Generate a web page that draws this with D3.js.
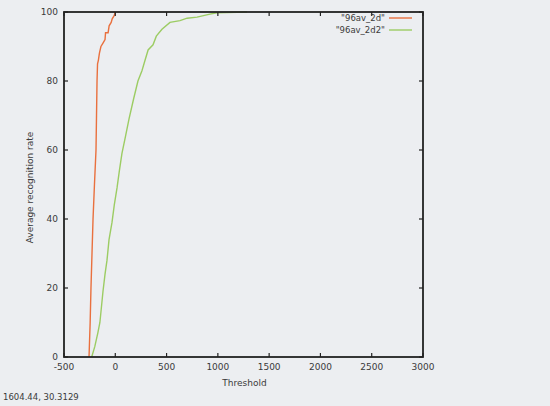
<!DOCTYPE html>
<html>
<head>
<meta charset="utf-8">
<script src="https://cdn.jsdelivr.net/npm/d3@7"></script>
<style>
  html, body { margin: 0; padding: 0; background: #eceef1; }
  svg { display: block; }
  text { font-family: "DejaVu Sans", sans-serif; fill: #3a3a3a; }
</style>
</head>
<body>
<svg id="chart" width="550" height="406"></svg>
<script>
// ---- data ----
const seriesNames = ["\"96av_2d\"", "\"96av_2d2\""];
const seriesColors = ["#e9703e", "#9ccc63"];
const redThreshold = [-256, -245, -237, -227, -217, -203, -188, -183, -178, -173, -165, -155, -140, -120, -100, -95, -70, -60, -40, -30, -10, 0];
const redRate      = [0, 10, 20, 30, 40, 50, 60, 70, 80, 85, 86, 88, 90, 91, 92, 94, 94, 96, 97, 98, 99, 100];
const greenThreshold = [-230, -200, -170, -150, -120, -100, -81, -61, -32, -10, 17, 40, 65, 100, 134, 180, 221, 260, 290, 320, 368, 400, 455, 533, 631, 700, 797, 923, 990, 1284];
const greenRate      = [0, 3, 7, 10, 19, 24, 28, 34, 39, 44, 49, 54, 59, 64, 69, 75, 80, 83, 86, 89, 90.5, 93, 95, 97, 97.5, 98.2, 98.5, 99.4, 99.8, 100];
const xTicks = [-500, 0, 500, 1000, 1500, 2000, 2500, 3000];
const yTicks = [0, 20, 40, 60, 80, 100];
const xLabel = "Threshold";
const yLabel = "Average recognition rate";
const statusText = "1604.44,  30.3129";

// ---- layout ----
const svg = d3.select("#chart");
const L = 64, R = 423, T = 12, B = 357;
const x = d3.scaleLinear().domain([-500, 3000]).range([L, R]);
const y = d3.scaleLinear().domain([0, 100]).range([B, T]);

// series
const series = [
  redThreshold.map((t, i) => [t, redRate[i]]),
  greenThreshold.map((t, i) => [t, greenRate[i]])
];
const line = d3.line().x(d => x(d[0])).y(d => y(d[1]));
series.forEach((s, i) => {
  svg.append("path").datum(s).attr("d", line)
    .attr("fill", "none").attr("stroke", seriesColors[i]).attr("stroke-width", 1.4);
});

// ticks (inward, mirrored)
const g = svg.append("g").attr("stroke", "#222").attr("stroke-width", 1.2);
xTicks.forEach(v => {
  g.append("line").attr("x1", x(v)).attr("x2", x(v)).attr("y1", B).attr("y2", B - 4);
  g.append("line").attr("x1", x(v)).attr("x2", x(v)).attr("y1", T).attr("y2", T + 4);
});
yTicks.forEach(v => {
  g.append("line").attr("x1", L).attr("x2", L + 4).attr("y1", y(v)).attr("y2", y(v));
  g.append("line").attr("x1", R).attr("x2", R - 4).attr("y1", y(v)).attr("y2", y(v));
});

// frame
svg.append("rect").attr("x", L).attr("y", T).attr("width", R - L).attr("height", B - T)
  .attr("fill", "none").attr("stroke", "#222").attr("stroke-width", 1.8);

// tick labels
svg.append("g").selectAll("text").data(xTicks).join("text")
  .attr("x", d => x(d)).attr("y", B + 13).attr("text-anchor", "middle")
  .attr("font-size", 9).text(d => d);
svg.append("g").selectAll("text").data(yTicks).join("text")
  .attr("x", L - 6).attr("y", d => y(d) + 3).attr("text-anchor", "end")
  .attr("font-size", 9).text(d => d);

// axis labels
svg.append("text").attr("x", (L + R) / 2 + 1).attr("y", 386).attr("text-anchor", "middle")
  .attr("font-size", 9).text(xLabel);
svg.append("text").attr("transform", `translate(33,${(T + B) / 2 + 3}) rotate(-90)`)
  .attr("text-anchor", "middle").attr("font-size", 9).text(yLabel);

// legend
seriesNames.forEach((n, i) => {
  const ly = 18 + i * 12;
  svg.append("text").attr("x", 385).attr("y", ly + 3).attr("text-anchor", "end")
    .attr("font-size", 8.5).text(n);
  svg.append("line").attr("x1", 389).attr("x2", 412).attr("y1", ly).attr("y2", ly)
    .attr("stroke", seriesColors[i]).attr("stroke-width", 1.4);
});

// status text
svg.append("text").attr("x", 3).attr("y", 400).attr("font-size", 8.5).text(statusText);
</script>
</body>
</html>
